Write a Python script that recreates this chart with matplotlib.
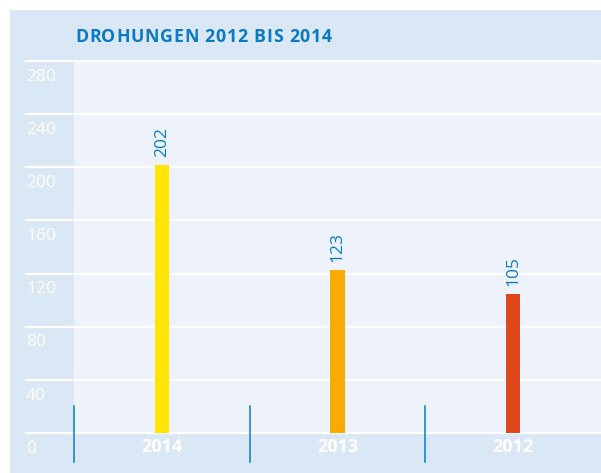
import matplotlib
matplotlib.use("Agg")
import matplotlib.pyplot as plt
from matplotlib.patches import Rectangle
from matplotlib.font_manager import FontProperties, findfont, get_font

categories = ["2014", "2013", "2012"]
values = [202, 123, 105]
bar_colors = ["#ffe500", "#f7ab00", "#e0451b"]
yticks = [0, 40, 80, 120, 160, 200, 240, 280]
title = "DROHUNGEN 2012 BIS 2014"

W, H = 601, 473
fig = plt.figure(figsize=(W / 100, H / 100), dpi=100)
fig.patch.set_facecolor("white")

outer = "#dae7f4"
inner = "#eef3fb"
blue = "#0a7bc2"

bg = fig.add_axes([0, 0, 1, 1], zorder=0)
bg.set_xlim(0, W)
bg.set_ylim(H, 0)
bg.set_axis_off()
bg.add_patch(Rectangle((10, 10), W - 10, H - 10, facecolor=outer, edgecolor="none"))

fsize = 12.8
fp = FontProperties(family="Open Sans", weight="bold", size=fsize)
font = get_font(findfont(fp))
font.set_size(fsize, 100)

xpos = 75.0
spacing = 0.75
for ch in title:
    bg.text(xpos, 37, ch, fontproperties=fp, color=blue, va="center", ha="left")
    g = font.load_char(ord(ch))
    adv = g.linearHoriAdvance / 65536.0
    xpos += adv + spacing

ax_l, ax_r = 26, 601
y0, y280 = 433, 61
ax = fig.add_axes([ax_l / W, (H - y0) / H, (ax_r - ax_l) / W, (y0 - y280) / H], zorder=1)
ax.patch.set_alpha(0)
ax.set_ylim(0, 280)
unit = 175.5
c0 = 162
ax.set_xlim(-(c0 - ax_l) / unit, (ax_r - c0) / unit)
ax.set_axis_off()

x = list(range(len(categories)))
ax.axvspan(-0.5, 3, color=inner, zorder=0, lw=0)
for t in yticks:
    ax.axhline(t, color="white", lw=1.6, zorder=1, clip_on=False)
    ax.text(ax.get_xlim()[0], t - 11.8, str(t), color="white",
            fontsize=12.5, family="Open Sans", va="center", ha="left", zorder=3)

ax.bar(x, values, width=0.08, color=bar_colors, zorder=2)
for xi, v in zip(x, values):
    ax.text(xi, v + 6, str(v), rotation=90, ha="center", va="bottom",
            color=blue, fontsize=12.5, family="Open Sans", zorder=3)
    ax.text(xi, -10.5, categories[xi], ha="center", va="center",
            color="white", fontsize=13, fontweight="bold", family="Open Sans",
            clip_on=False)

for d in [-0.5, 0.5, 1.5]:
    ax.plot([d, d], [20, -21.5], color=blue, lw=1.1, clip_on=False, zorder=4)

fig.savefig("out.png", dpi=100)
